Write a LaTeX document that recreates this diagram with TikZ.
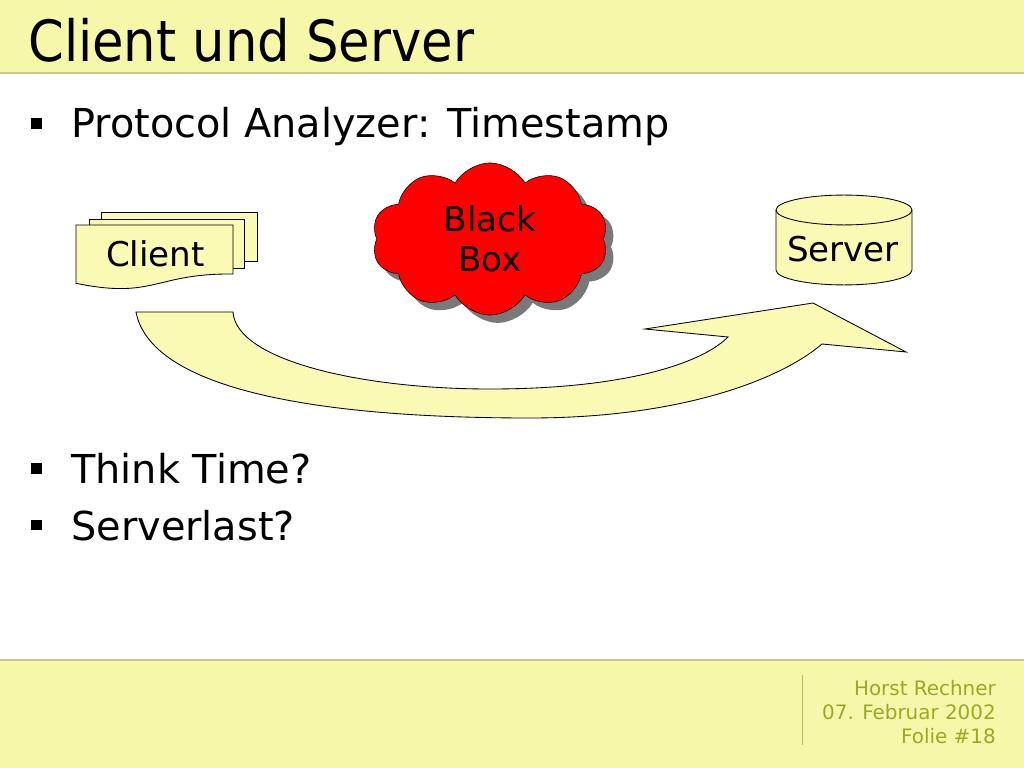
\documentclass[tikz,border=0pt]{standalone}
\usepackage{fontspec}
\setmainfont{DejaVu Sans}
\newfontfamily\titlefont[FakeStretch=0.90]{DejaVu Sans}
\usetikzlibrary{positioning, shapes.symbols, shadows}
\definecolor{band}{HTML}{F7F7AA}
\definecolor{bandline}{HTML}{C9C98A}
\definecolor{pale}{HTML}{FAFAB4}
\definecolor{olive}{HTML}{9AAA22}
\definecolor{boxred}{HTML}{FF0000}

\begin{document}
\begin{tikzpicture}[x=0.703125pt, y=-0.703125pt,
    txt/.style={inner sep=0pt, anchor=base west},
    bulletsq/.style={fill=black, minimum size=7.6pt, inner sep=0pt},
    sheet/.style={draw=black, fill=pale, line width=0.6pt}]
  \useasboundingbox (0,0) rectangle (1024,768);
  \fill[white] (0,0) rectangle (1024,768);

  % title band
  \fill[band] (0,0) rectangle (1024,73);
  \draw[bandline, line width=1.5pt] (0,73) -- (1024,73);
  \node[txt, font=\titlefont\fontsize{40}{48}\selectfont] (title) at (28,62) {Client und Server};

  % bullets
  \node[bulletsq] (b1) at (36.5,123.5) {};
  \node[txt, font=\fontsize{28}{34}\selectfont] (t1) at (71,138) {Protocol Analyzer: Timestamp};
  \node[bulletsq] (b2) at (36.5,468.5) {};
  \node[txt, font=\fontsize{28}{34}\selectfont] (t2) at (71,483) {Think Time?};
  \node[bulletsq] (b3) at (36.5,525) {};
  \node[txt, font=\fontsize{28}{34}\selectfont] (t3) at (71,540) {Serverlast?};

  % client (stacked documents)
  \draw[sheet] (101.7,212.7) rectangle (257.7,261.7);
  \draw[sheet] (89,219) rectangle (244,268);
  \draw[sheet] (76,225) -- (233,225) -- (233,274)
    .. controls (154.5,273.2) and (154.5,299.5) .. (76,283.3) -- cycle;
  \node[inner sep=0pt, anchor=base, font=\fontsize{24}{29}\selectfont] (client) at (155.5,267) {Client};

  % black box
  \node[cloud, cloud puffs=10, cloud puff arc=120, aspect=1.6, draw=black, fill=boxred,
        minimum width=166pt, minimum height=107pt, inner sep=0pt, align=center,
        font=\fontsize{24}{28.1}\selectfont,
        drop shadow={shadow xshift=5.5pt, shadow yshift=-5.5pt, fill=gray!95!black, opacity=1}]
        (bbox) at (490,239) {Black\\Box};

  % server (cylinder)
  \draw[sheet] (776,210) -- (776,270) arc[start angle=180, end angle=360, x radius=47.8pt, y radius=10.5pt]
    -- (912,210) arc[start angle=0, end angle=180, x radius=47.8pt, y radius=10.5pt] -- cycle;
  \draw[black, line width=0.6pt] (776,210) arc[start angle=180, end angle=360, x radius=47.8pt, y radius=10.5pt];
  \node[inner sep=0pt, anchor=base, font=\fontsize{24}{29}\selectfont] (server) at (843,261.7) {Server};

  % curved arrow client -> server
  \draw[sheet] (136,312) -- (233,312)
    .. controls (236,360) and (360,389) .. (490,389)
    .. controls (620,389) and (700,365) .. (728,337)
    -- (645,329) -- (813,303) -- (906,352) -- (822,344)
    .. controls (780,380) and (680,418) .. (530,418)
    .. controls (300,418) and (150,385) .. (136,312) -- cycle;

  % footer
  \fill[band] (0,660) rectangle (1024,768);
  \draw[bandline, line width=1.5pt] (0,660) -- (1024,660);
  \draw[olive!75, line width=0.8pt] (802.5,675) -- (802.5,745);
  \foreach \t/\y in {Horst Rechner/695, 07. Februar 2002/719, Folie \#18/743}
    \node[inner sep=0pt, anchor=base east, text=olive, font=\fontsize{14}{17}\selectfont] (foot\y) at (996,\y) {\t};
\end{tikzpicture}
\end{document}
